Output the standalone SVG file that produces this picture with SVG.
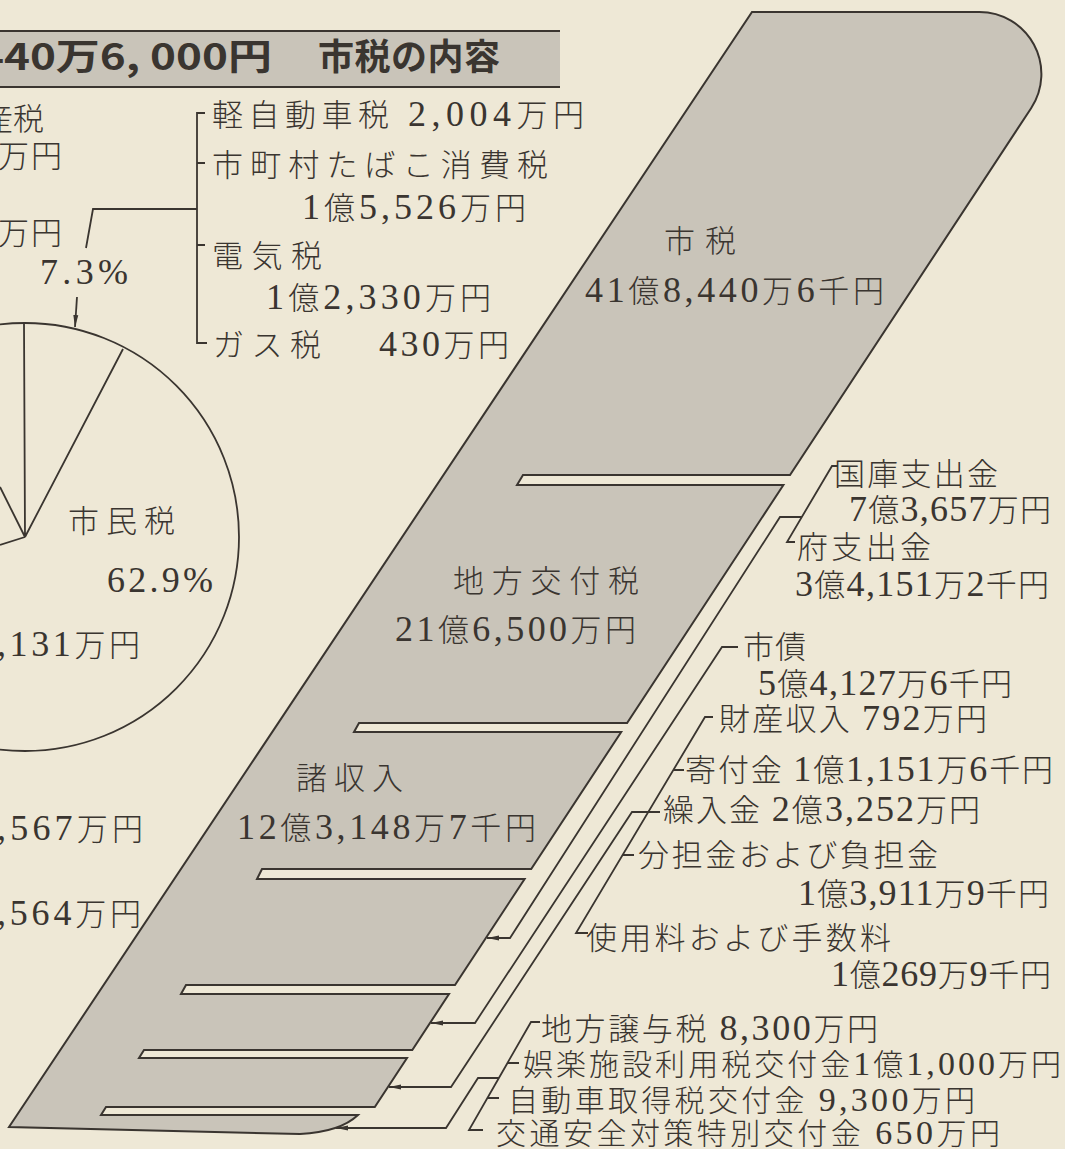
<svg xmlns="http://www.w3.org/2000/svg" width="1065" height="1149" viewBox="0 0 1065 1149">
<defs>
<style>
.bg{fill:#eee8d6}
.band{fill:#c9c4b9;stroke:#3a3530;stroke-width:2;stroke-linejoin:miter}
.hdr{fill:#c9c4b9}
.ink{fill:none;stroke:#3a3530;stroke-width:1.8}
.t{font-family:"Liberation Serif","Noto Sans CJK JP",serif;font-size:31px;font-weight:300;fill:#3a3530}
.n{font-size:36px}
.s{font-size:30px}
.s .n{font-size:34px}
.hd{font-family:"Noto Sans CJK JP","Liberation Sans",sans-serif;font-size:36px;font-weight:700;fill:#3a3530}
</style>
<marker id="ah" viewBox="0 0 12 6" refX="12" refY="3" markerWidth="12" markerHeight="6" markerUnits="userSpaceOnUse" orient="auto"><path d="M0,0.5 L12,3 L0,5.5 Z" fill="#3a3530"/></marker>
</defs>
<rect class="bg" x="0" y="0" width="1065" height="1149"/>

<g id="header">
<rect class="hdr" x="0" y="31" width="560" height="56"/>
<path class="ink" d="M0,31 H560 M0,87 H560"/>
<text class="hd" x="-22" y="70" textLength="294" lengthAdjust="spacingAndGlyphs">440万6, 000円</text>
<text class="hd" x="318" y="70" textLength="182" lengthAdjust="spacing">市税の内容</text>
</g>

<g id="band">
<path class="band" d="M752,12 L979,12 A62,62 0 0 1 1031.1,108.2 L790,475 L523,475 L517,485 L783.4,485 L627.1,723 L359,723 L354,732 L621.2,732 L531.2,869 L262,869 L257,879 L524.6,879 L455,985 L186,985 L181,994 L449,994 L412.3,1050 L144,1050 L139,1058 L407,1058 L374.8,1107 L106,1107 L101,1115 L358,1115 Q340,1132 300,1134 L9,1127 Z"/>
</g>

<g id="node-shizei">
<text class="t" x="664" y="252" textLength="72" lengthAdjust="spacing">市税</text>
<text class="t" x="585" y="302" textLength="299" lengthAdjust="spacing"><tspan class="n">41</tspan>億<tspan class="n">8,440</tspan>万<tspan class="n">6</tspan>千円</text>
</g>
<g id="node-chihokofuzei">
<text class="t" x="453" y="592" textLength="186" lengthAdjust="spacing">地方交付税</text>
<text class="t" x="395" y="641" textLength="241" lengthAdjust="spacing"><tspan class="n">21</tspan>億<tspan class="n">6,500</tspan>万円</text>
</g>
<g id="node-shoshunyu">
<text class="t" x="296" y="789" textLength="107" lengthAdjust="spacing">諸収入</text>
<text class="t" x="237" y="839" textLength="299" lengthAdjust="spacing"><tspan class="n">12</tspan>億<tspan class="n">3,148</tspan>万<tspan class="n">7</tspan>千円</text>
</g>

<g id="pie">
<circle class="ink" cx="25" cy="537" r="214" stroke-width="2"/>
<path class="ink" stroke-width="2" d="M25,537 L24,323 M25,537 L123,349 M25,537 L0,487 M25,537 L0,545"/>
<text class="t" x="68" y="532" textLength="107" lengthAdjust="spacing">市民税</text>
<text class="t" x="107" y="592" textLength="106" lengthAdjust="spacing"><tspan class="n">62.9%</tspan></text>
<text class="t" x="-3" y="656" textLength="143" lengthAdjust="spacing"><tspan class="n">,131</tspan>万円</text>
<text class="t" x="40" y="284" textLength="88" lengthAdjust="spacing"><tspan class="n">7.3%</tspan></text>
</g>

<g id="left-clipped">
<text class="t" x="44" y="130" text-anchor="end">産税</text>
<text class="t" x="-2" y="167" textLength="64" lengthAdjust="spacing">万円</text>
<text class="t" x="-2" y="244" textLength="64" lengthAdjust="spacing">万円</text>
<text class="t" x="-3" y="840" textLength="146" lengthAdjust="spacing"><tspan class="n">,567</tspan>万円</text>
<text class="t" x="-3" y="925" textLength="144" lengthAdjust="spacing"><tspan class="n">,564</tspan>万円</text>
</g>

<g id="node-shizei-breakdown">
<text class="t" x="212" y="126" textLength="372" lengthAdjust="spacing">軽自動車税 <tspan class="n">2,004</tspan>万円</text>
<text class="t" x="212" y="176" textLength="336" lengthAdjust="spacing">市町村たばこ消費税</text>
<text class="t" x="302" y="219" textLength="224" lengthAdjust="spacing"><tspan class="n">1</tspan>億<tspan class="n">5,526</tspan>万円</text>
<text class="t" x="212" y="267" textLength="110" lengthAdjust="spacing">電気税</text>
<text class="t" x="266" y="309" textLength="225" lengthAdjust="spacing"><tspan class="n">1</tspan>億<tspan class="n">2,330</tspan>万円</text>
<text class="t" x="213" y="356" textLength="108" lengthAdjust="spacing">ガス税</text>
<text class="t" x="379" y="356" textLength="130" lengthAdjust="spacing"><tspan class="n">430</tspan>万円</text>
</g>

<g id="node-kokko-fu">
<text class="t" x="834" y="485" textLength="164" lengthAdjust="spacing">国庫支出金</text>
<text class="t" x="849" y="521" textLength="202" lengthAdjust="spacing"><tspan class="n">7</tspan>億<tspan class="n">3,657</tspan>万円</text>
<text class="t" x="797" y="558" textLength="134" lengthAdjust="spacing">府支出金</text>
<text class="t" x="795" y="596" textLength="254" lengthAdjust="spacing"><tspan class="n">3</tspan>億<tspan class="n">4,151</tspan>万<tspan class="n">2</tspan>千円</text>
</g>
<g id="node-shisai">
<text class="t" x="743" y="658" textLength="63" lengthAdjust="spacing">市債</text>
<text class="t" x="758" y="695" textLength="254" lengthAdjust="spacing"><tspan class="n">5</tspan>億<tspan class="n">4,127</tspan>万<tspan class="n">6</tspan>千円</text>
</g>
<g id="node-five-items">
<text class="t" x="719" y="730" textLength="268" lengthAdjust="spacing">財産収入 <tspan class="n">792</tspan>万円</text>
<text class="t" x="685" y="781" textLength="368" lengthAdjust="spacing">寄付金 <tspan class="n">1</tspan>億<tspan class="n">1,151</tspan>万<tspan class="n">6</tspan>千円</text>
<text class="t" x="663" y="821" textLength="317" lengthAdjust="spacing">繰入金 <tspan class="n">2</tspan>億<tspan class="n">3,252</tspan>万円</text>
<text class="t" x="638" y="866" textLength="300" lengthAdjust="spacing">分担金および負担金</text>
<text class="t" x="798" y="905" textLength="251" lengthAdjust="spacing"><tspan class="n">1</tspan>億<tspan class="n">3,911</tspan>万<tspan class="n">9</tspan>千円</text>
<text class="t" x="586" y="949" textLength="305" lengthAdjust="spacing">使用料および手数料</text>
<text class="t" x="831" y="986" textLength="220" lengthAdjust="spacing"><tspan class="n">1</tspan>億<tspan class="n">269</tspan>万<tspan class="n">9</tspan>千円</text>
</g>
<g id="node-joyozei">
<text class="t" x="541" y="1040" textLength="337" lengthAdjust="spacing">地方譲与税 <tspan class="n">8,300</tspan>万円</text>
<text class="t s" x="523" y="1075" textLength="538" lengthAdjust="spacing">娯楽施設利用税交付金<tspan class="n">1</tspan>億<tspan class="n">1,000</tspan>万円</text>
<text class="t s" x="508" y="1111" textLength="467" lengthAdjust="spacing">自動車取得税交付金 <tspan class="n">9,300</tspan>万円</text>
<text class="t s" x="496" y="1144" textLength="504" lengthAdjust="spacing">交通安全対策特別交付金 <tspan class="n">650</tspan>万円</text>
</g>

<g id="connectors" class="ink">
<path d="M205,113 L197,113 L197,343 L207,343 M197,163 L205,163 M197,245 L205,245 M197,209 L93,209 L86,248"/>
<path d="M77,297 L75,327" marker-end="url(#ah)"/>
<path d="M838,466 L832,466 L787,542 L795,542"/>
<path d="M802,517 L780,517 L510,938 L487,938" marker-end="url(#ah)"/>
<path d="M738,647 L722,647 L475,1023 L431,1023" marker-end="url(#ah)"/>
<path d="M713,717 L705,717 L576,933 L588,933 M673,770 L684,770 M623,855 L634,855"/>
<path d="M660,812 L632,812 L451,1087 L389,1087" marker-end="url(#ah)"/>
<path d="M540,1022 L531,1022 L469,1130 L483,1130 M507,1063 L519,1063 M487,1098 L499,1098"/>
<path d="M499,1078 L478,1078 L446,1128 L336,1128" marker-end="url(#ah)"/>
</g>
</svg>
